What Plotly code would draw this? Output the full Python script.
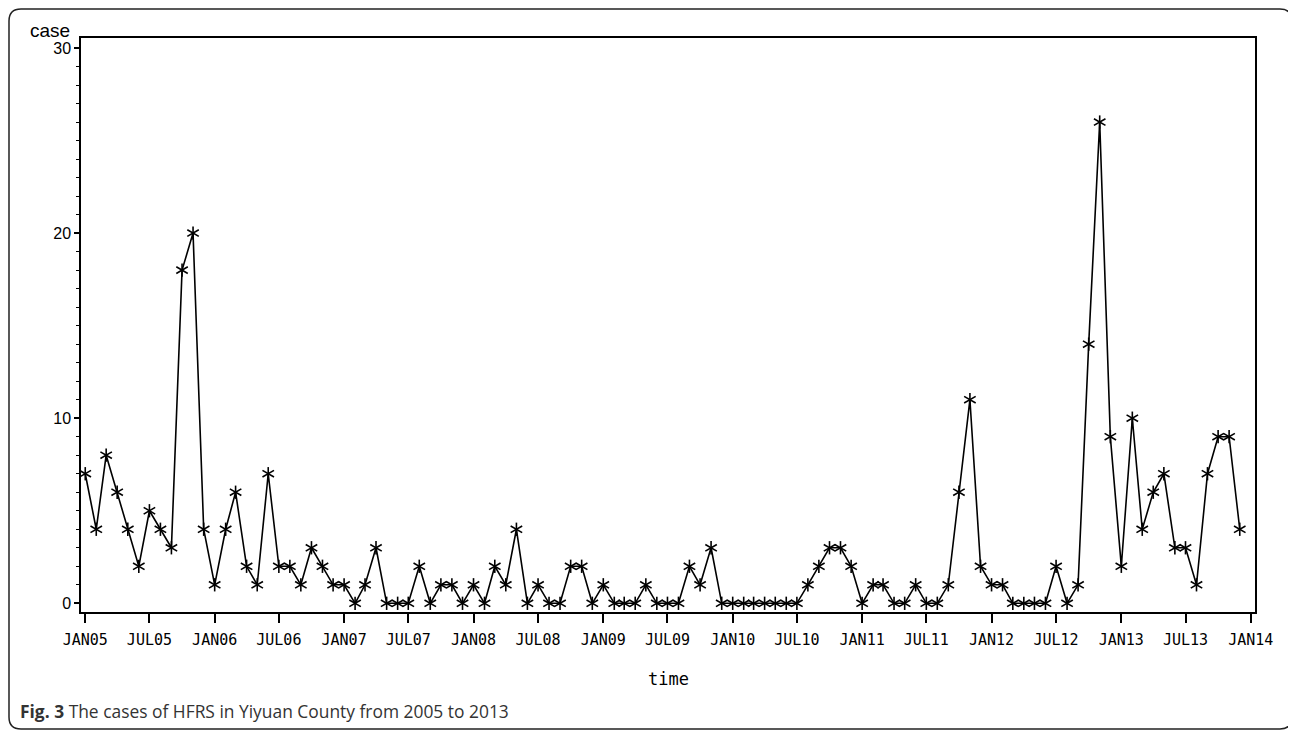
import pandas as pd
import plotly.graph_objects as go

# ---------------- data ----------------
start_month = "2005-01-01"
cases_2005 = [7, 4, 8, 6, 4, 2, 5, 4, 3, 18, 20, 4]
cases_2006 = [1, 4, 6, 2, 1, 7, 2, 2, 1, 3, 2, 1]
cases_2007 = [1, 0, 1, 3, 0, 0, 0, 2, 0, 1, 1, 0]
cases_2008 = [1, 0, 2, 1, 4, 0, 1, 0, 0, 2, 2, 0]
cases_2009 = [1, 0, 0, 0, 1, 0, 0, 0, 2, 1, 3, 0]
cases_2010 = [0, 0, 0, 0, 0, 0, 0, 1, 2, 3, 3, 2]
cases_2011 = [0, 1, 1, 0, 0, 1, 0, 0, 1, 6, 11, 2]
cases_2012 = [1, 1, 0, 0, 0, 0, 2, 0, 1, 14, 26, 9]
cases_2013 = [2, 10, 4, 6, 7, 3, 3, 1, 7, 9, 9, 4]
cases = (cases_2005 + cases_2006 + cases_2007 + cases_2008 + cases_2009
         + cases_2010 + cases_2011 + cases_2012 + cases_2013)
months = pd.date_range(start_month, periods=len(cases), freq="MS")

tick_dates = ["2005-01-01", "2005-07-01", "2006-01-01", "2006-07-01", "2007-01-01",
              "2007-07-01", "2008-01-01", "2008-07-01", "2009-01-01", "2009-07-01",
              "2010-01-01", "2010-07-01", "2011-01-01", "2011-07-01", "2012-01-01",
              "2012-07-01", "2013-01-01", "2013-07-01", "2014-01-01"]
tick_labels = ["JAN05", "JUL05", "JAN06", "JUL06", "JAN07", "JUL07", "JAN08", "JUL08",
               "JAN09", "JUL09", "JAN10", "JUL10", "JAN11", "JUL11", "JAN12", "JUL12",
               "JAN13", "JUL13", "JAN14"]
y_ticks = [0, 10, 20, 30]

y_title = "case"
x_title = "time"
caption_bold = "Fig. 3"
caption_text = " The cases of HFRS in Yiyuan County from 2005 to 2013"

# ---------------- layout geometry ----------------
# page body has an 8px margin, so screen coords = figure coords + 8
OFF = 8
FW, FH = 1296, 733
L, T = 81 - OFF, 38 - OFF
R = FW - (1255 - OFF)
B = FH - (612 - OFF)
PW, PH = FW - L - R, FH - T - B


def px_x(px):
    return (px - OFF - L) / PW


def px_y(py):
    return (FH - B - (py - OFF)) / PH


fig = go.Figure()

fig.add_trace(go.Scatter(
    x=months, y=cases, mode="lines",
    line=dict(color="black", width=1.6),
    showlegend=False, hoverinfo="skip",
))
for ang in (0, 60, 120):
    fig.add_trace(go.Scatter(
        x=months, y=cases, mode="markers",
        marker=dict(symbol="line-ns-open", size=9.5, angle=ang, color="black",
                    line=dict(color="black", width=1.6)),
        showlegend=False,
    ))

# rounded outer border (screen px)
x0, y0, x1, y1, r = 9, 9, 1292, 729, 12
pts = [
    ("M", (x0 + r, y0)), ("L", (x1 - r, y0)), ("Q", (x1, y0), (x1, y0 + r)),
    ("L", (x1, y1 - r)), ("Q", (x1, y1), (x1 - r, y1)),
    ("L", (x0 + r, y1)), ("Q", (x0, y1), (x0, y1 - r)),
    ("L", (x0, y0 + r)), ("Q", (x0, y0), (x0 + r, y0)),
]
path = ""
for item in pts:
    cmd = item[0]
    coords = " ".join(f"{px_x(p[0]):.5f},{px_y(p[1]):.5f}" for p in item[1:])
    path += f"{cmd}{coords} "
path += "Z"

fig.update_layout(
    width=FW, height=FH,
    margin=dict(l=L, r=R, t=T, b=B, pad=0),
    paper_bgcolor="white", plot_bgcolor="white",
    shapes=[dict(type="path", xref="paper", yref="paper", path=path,
                 line=dict(color="#222222", width=1.5), layer="above")],
    annotations=[
        dict(text=y_title, xref="paper", yref="paper", x=px_x(50), y=px_y(31),
             xanchor="center", yanchor="middle", showarrow=False,
             font=dict(family="Liberation Sans, Arial", size=19, color="black")),
        dict(text=x_title, xref="paper", yref="paper", x=px_x(668), y=px_y(679),
             xanchor="center", yanchor="middle", showarrow=False,
             font=dict(family="DejaVu Sans Mono", size=17, color="black")),
        dict(text=f"<b>{caption_bold}</b>{caption_text}", xref="paper", yref="paper",
             x=px_x(18), y=px_y(711), xanchor="left", yanchor="middle", showarrow=False,
             font=dict(family="Open Sans", size=17.4, color="#333333")),
    ],
)

fig.update_xaxes(
    type="date", range=["2004-12-20", "2014-01-13"],
    tickvals=tick_dates, ticktext=tick_labels,
    ticks="outside", ticklen=9, tickwidth=1.5, tickcolor="black",
    showline=True, linewidth=1.5, linecolor="black", mirror=True,
    showgrid=False, zeroline=False, ticklabelstandoff=4,
    tickfont=dict(family="DejaVu Sans Mono", size=15, color="black"),
)
fig.update_yaxes(
    range=[-0.47, 30.54], tickvals=y_ticks,
    ticks="outside", ticklen=5, tickwidth=1.5, tickcolor="black",
    minor=dict(dtick=1, ticks="outside", ticklen=3, tickwidth=1, tickcolor="black",
               showgrid=False),
    showline=True, linewidth=1.5, linecolor="black", mirror=True,
    showgrid=False, zeroline=False,
    tickfont=dict(family="Liberation Sans, Arial", size=16, color="black"),
)

fig.write_html("out.html")
